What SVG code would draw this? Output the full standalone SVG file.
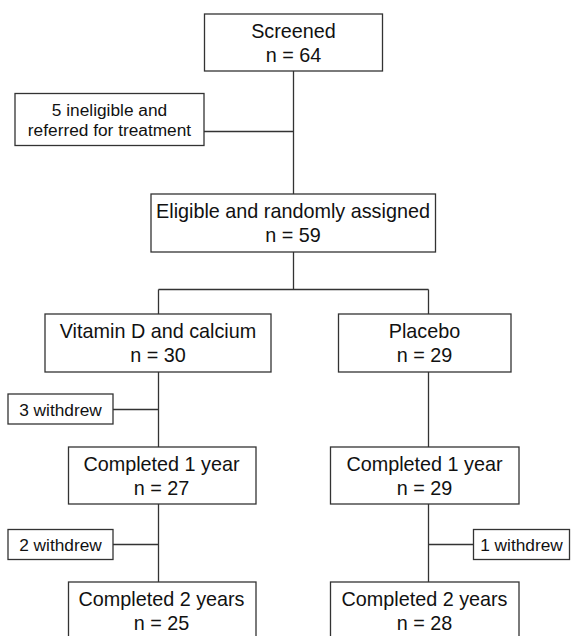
<svg xmlns="http://www.w3.org/2000/svg" width="571" height="636" viewBox="0 0 571 636">
<style>
.box{fill:#fff;stroke:#333;stroke-width:1.3}
.main{font-family:"Liberation Sans",Arial,sans-serif;font-size:19.8px;fill:#111;text-anchor:middle}
.side{font-family:"Liberation Sans",Arial,sans-serif;font-size:17.3px;fill:#111;text-anchor:middle}
.conn{stroke:#333;stroke-width:1.3;fill:none}
</style>
<rect width="571" height="636" fill="#fff"/>
<g id="connectors">
<path class="conn" d="M293.5 71V194M204 131.5H293.5M293.5 252V289.5M158.5 289.5H428.5M158.5 289.5V314M428.5 289.5V314M158.5 372V447M113 409.5H158.5M428.5 372V447M158.5 504V582M113 544.5H158.5M428.5 504V582M428.5 544.5H473.5"/>
</g>
<g id="screened">
<rect class="box" x="204.5" y="14" width="178" height="57"/>
<text class="main" x="293.5" y="37.5">Screened</text>
<text class="main" x="293.5" y="62">n = 64</text>
</g>
<g id="ineligible">
<rect class="box" x="15" y="93.5" width="189" height="52"/>
<text class="side" x="109.5" y="115.5">5 ineligible and</text>
<text class="side" x="109.5" y="135.5">referred for treatment</text>
</g>
<g id="eligible">
<rect class="box" x="151" y="194" width="284.5" height="58"/>
<text class="main" x="293" y="218">Eligible and randomly assigned</text>
<text class="main" x="293" y="242">n = 59</text>
</g>
<g id="vitamin">
<rect class="box" x="45" y="314" width="226" height="58"/>
<text class="main" x="158" y="338">Vitamin D and calcium</text>
<text class="main" x="158" y="362">n = 30</text>
</g>
<g id="placebo">
<rect class="box" x="338.5" y="314" width="172.5" height="58"/>
<text class="main" x="424.5" y="338">Placebo</text>
<text class="main" x="424.5" y="362">n = 29</text>
</g>
<g id="withdrew3">
<rect class="box" x="8" y="394" width="105" height="30"/>
<text class="side" x="60.5" y="415.5">3 withdrew</text>
</g>
<g id="vit1">
<rect class="box" x="68.5" y="447" width="187.5" height="57"/>
<text class="main" x="161.5" y="471">Completed 1 year</text>
<text class="main" x="161.5" y="495">n = 27</text>
</g>
<g id="pla1">
<rect class="box" x="330.5" y="447" width="188.5" height="57"/>
<text class="main" x="424.5" y="471">Completed 1 year</text>
<text class="main" x="424.5" y="495">n = 29</text>
</g>
<g id="withdrew2">
<rect class="box" x="8" y="529.5" width="105" height="30"/>
<text class="side" x="60.5" y="551">2 withdrew</text>
</g>
<g id="withdrew1">
<rect class="box" x="473.5" y="529.5" width="96" height="30"/>
<text class="side" x="521.5" y="551">1 withdrew</text>
</g>
<g id="vit2">
<rect class="box" x="68.5" y="582" width="187.5" height="80"/>
<text class="main" x="161.5" y="606">Completed 2 years</text>
<text class="main" x="161.5" y="630">n = 25</text>
</g>
<g id="pla2">
<rect class="box" x="330.5" y="582" width="188.5" height="80"/>
<text class="main" x="424.5" y="606">Completed 2 years</text>
<text class="main" x="424.5" y="630">n = 28</text>
</g>
</svg>
